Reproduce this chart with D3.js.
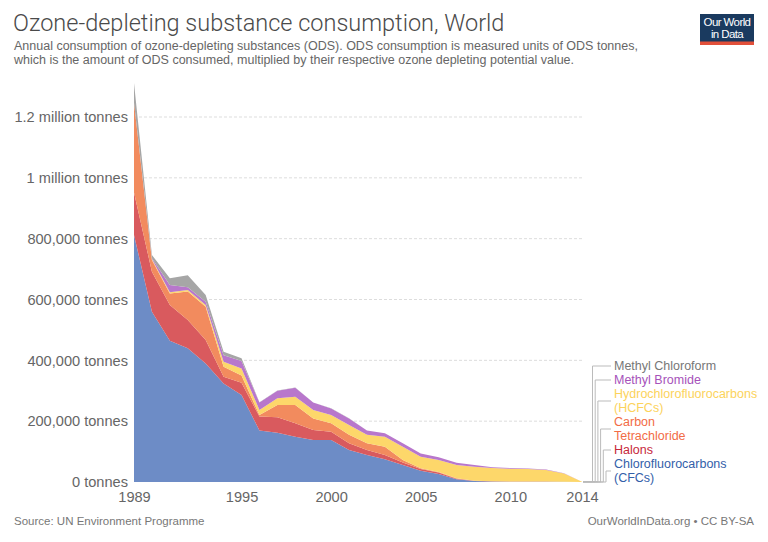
<!DOCTYPE html>
<html lang="en">
<head>
    <meta charset="UTF-8">
    <title>Ozone-depleting substance consumption</title>
    <script src="https://d3js.org/d3.v7.min.js"></script>
    <style>
        body {
            margin: 0;
            background: #fff;
        }
        svg {
            display: block;
            font-family: "Liberation Sans", Arial, sans-serif;
        }
        .title {
            font-family: Roboto, "Liberation Sans", sans-serif;
            font-weight: 300;
            font-size: 23.5px;
            fill: #4a4a4a;
        }
        .subtitle {
            font-size: 12.5px;
            fill: #666;
        }
        .tick text {
            font-size: 14.6px;
            fill: #666;
        }
        .grid line {
            stroke: #ddd;
            stroke-dasharray: 3,2;
        }
        .footer {
            font-size: 11.5px;
            fill: #777;
        }
        .legend text {
            font-size: 12.5px;
        }
    </style>
</head>
<body>
    <svg width="768" height="542"></svg>
    <script>
        // Data (tonnes of ODP, in thousands)
        const years = d3.range(1989, 2015);
        const seriesNames = ["Chlorofluorocarbons (CFCs)", "Halons", "Carbon Tetrachloride",
                             "Hydrochlorofluorocarbons (HCFCs)", "Methyl Bromide", "Methyl Chloroform"];
        const cfcs = [812, 560, 464, 440, 390, 324, 286, 169, 162, 149, 138, 138, 105, 89, 75, 56, 37, 26, 9, 3, 2, 1, 1, 1, 0.5, 0];
        const halons = [140, 131, 118, 93, 77, 22, 40, 46, 51, 44, 33, 27, 22, 16, 14, 8, 6, 5, 2, 1, 0.5, 0.5, 0.5, 0.5, 0.3, 0];
        const carbonTet = [295, 39, 38, 93, 109, 33, 24, 5, 40, 60, 38, 28, 28, 22, 27, 8, 2, 2, 1, 0.5, 0.3, 0.3, 0.3, 0.3, 0.2, 0];
        const hcfcs = [0, 3, 4, 5, 6, 16, 23, 17, 22, 27, 28, 27, 32, 28, 33, 44, 38, 39, 44, 46, 43, 42, 41, 38, 27, 1];
        const methylBromide = [0, 3, 24, 9, 11, 22, 25, 24, 25, 30, 24, 22, 22, 14, 11, 11, 11, 9, 7, 5, 3, 2, 1.5, 1, 1, 0];
        const methylChloroform = [65, 10, 22, 40, 22, 11, 9, 1, 0.5, 0.5, 0.3, 0.3, 0.3, 0.2, 0.2, 0.2, 0.1, 0.1, 0.1, 0, 0, 0, 0, 0, 0, 0];
        const xTicks = [1989, 1995, 2000, 2005, 2010, 2014];
        const yTicks = [0, 200000, 400000, 600000, 800000, 1000000, 1200000];

        const fills = ["#6d8cc6", "#d95a5e", "#f28b5e", "#fdd76a", "#b877cc", "#a6a6a6"];
        const labelColors = ["#3360a9", "#c7283b", "#f26c46", "#fcd35c", "#a652ba", "#777"];

        const allSeries = [cfcs, halons, carbonTet, hcfcs, methylBromide, methylChloroform];
        const table = years.map((yr, i) => {
            const row = {year: yr};
            seriesNames.forEach((n, k) => row[n] = allSeries[k][i] * 1000);
            return row;
        });

        const svg = d3.select("svg");
        const margin = {top: 117, left: 134, right: 582, bottom: 482};

        const x = d3.scaleLinear().domain([1989, 2014]).range([margin.left, margin.right]);
        const y = d3.scaleLinear().domain([0, 1200000]).range([margin.bottom, margin.top]);

        // Header
        svg.append("text").attr("class", "title").attr("x", 13).attr("y", 31)
           .text("Ozone-depleting substance consumption, World");
        svg.append("text").attr("class", "subtitle").attr("x", 14).attr("y", 50)
           .text("Annual consumption of ozone-depleting substances (ODS). ODS consumption is measured units of ODS tonnes,");
        svg.append("text").attr("class", "subtitle").attr("x", 14).attr("y", 64)
           .text("which is the amount of ODS consumed, multiplied by their respective ozone depleting potential value.");

        // Logo
        const logo = svg.append("g").attr("transform", "translate(700,14)");
        logo.append("rect").attr("width", 54).attr("height", 31).attr("fill", "#1a3a5f");
        logo.append("rect").attr("y", 27.5).attr("width", 54).attr("height", 3.5).attr("fill", "#e2503a");
        logo.append("text").attr("x", 27).attr("y", 12).attr("text-anchor", "middle")
            .attr("fill", "#fff").style("font-size", "11.5px").style("letter-spacing", "-0.6px").text("Our World");
        logo.append("text").attr("x", 27).attr("y", 24).attr("text-anchor", "middle")
            .attr("fill", "#fff").style("font-size", "11.5px").style("letter-spacing", "-0.6px").text("in Data");

        // Gridlines
        svg.append("g").attr("class", "grid")
           .selectAll("line").data(yTicks.filter(d => d > 0)).join("line")
           .attr("x1", margin.left).attr("x2", margin.right)
           .attr("y1", d => y(d)).attr("y2", d => y(d));

        // Y axis
        const fmtY = d => d === 0 ? "0 tonnes"
            : d >= 1000000 ? `${d / 1000000} million tonnes`
            : `${d3.format(",")(d)} tonnes`;
        const yAxis = svg.append("g").attr("transform", `translate(${margin.left},0)`)
           .call(d3.axisLeft(y).tickValues(yTicks).tickFormat(fmtY).tickSize(0).tickPadding(6));
        yAxis.select(".domain").remove();

        // Stacked areas
        const stack = d3.stack().keys(seriesNames);
        const layers = stack(table);
        const area = d3.area()
            .x(d => x(d.data.year))
            .y0(d => y(d[0]))
            .y1(d => y(d[1]));
        svg.append("g").selectAll("path").data(layers).join("path")
           .attr("d", area)
           .attr("fill", (d, i) => fills[i]);

        // X axis
        const xAxis = svg.append("g").attr("transform", `translate(0,${margin.bottom})`)
           .call(d3.axisBottom(x).tickValues(xTicks).tickFormat(d3.format("d")).tickSize(0).tickPadding(10));
        xAxis.select(".domain").remove();

        // Legend labels to the right, stacked up from the baseline
        const legend = svg.append("g").attr("class", "legend");
        const labelX = 614, lineH = 14, maxW = 115;
        const items = seriesNames.map((name, i) => {
            const t = legend.append("text").attr("x", labelX).attr("fill", labelColors[i]);
            const words = name.split(" ");
            const lines = [];
            let cur = "";
            words.forEach(w => {
                const test = cur ? cur + " " + w : w;
                t.text(test);
                if (cur && t.node().getComputedTextLength() > maxW) {
                    lines.push(cur);
                    cur = w;
                } else {
                    cur = test;
                }
            });
            lines.push(cur);
            t.text(null);
            return {t, lines, i};
        });
        let bottom = 485;
        const last = layers.map(l => l[l.length - 1][1]);
        items.forEach(it => {
            const top = bottom - it.lines.length * lineH;
            it.lines.forEach((ln, j) => {
                it.t.append("tspan").attr("x", labelX)
                    .attr("y", top + j * lineH + lineH / 2).attr("dy", "0.35em").text(ln);
            });
            it.mid = (top + bottom) / 2;
            bottom = top;
        });
        items.forEach(it => {
            const vx = 592.5 + (seriesNames.length - 1 - it.i) * 2.7;
            const sy = y(last[it.i]);
            legend.append("path")
                .attr("d", `M${margin.right + 1},${sy}H${vx}V${it.mid}H${labelX - 3}`)
                .attr("fill", "none").attr("stroke", "#bbb").attr("stroke-width", 1);
        });

        // Footer
        svg.append("text").attr("class", "footer").attr("x", 14).attr("y", 525)
           .text("Source: UN Environment Programme");
        svg.append("text").attr("class", "footer").attr("x", 754).attr("y", 525)
           .attr("text-anchor", "end").text("OurWorldInData.org \u2022 CC BY-SA");
    </script>
</body>
</html>
